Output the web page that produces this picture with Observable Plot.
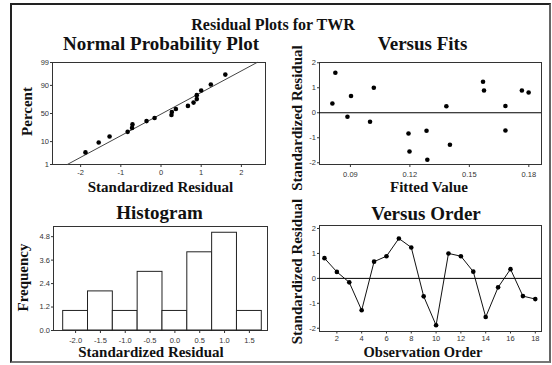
<!DOCTYPE html>
<html>
<head>
<meta charset="utf-8">
<script src="https://cdn.jsdelivr.net/npm/d3@7"></script>
<script src="https://cdn.jsdelivr.net/npm/@observablehq/plot@0.6"></script>
<style>
  html, body { margin: 0; padding: 0; background: #fff; }
  #wrap { position: relative; width: 552px; height: 365px; background: #fff; overflow: hidden; }
  #border { position: absolute; left: 10px; top: 3px; width: 537px; height: 356px;
            border-style: solid; border-width: 2px; border-color: #222 #666 #777 #222; }
  .panel { position: absolute; }
  .panel svg { overflow: visible; }
  #overlay { position: absolute; left: 0; top: 0; pointer-events: none; }
</style>
</head>
<body>
<div id="wrap"><div id="border"></div></div>
<script>
// ---------------- data ----------------
const observation = [1, 2, 3, 4, 5, 6, 7, 8, 9, 10, 11, 12, 13, 14, 15, 16, 17, 18];
const residuals = [0.81, 0.26, -0.16, -1.28, 0.67, 0.89, 1.60, 1.24, -0.72, -1.88, 1.00, 0.89, 0.27, -1.55, -0.36, 0.37, -0.71, -0.83];
const fitted = [0.1799, 0.1384, 0.0885, 0.1402, 0.0903, 0.1574, 0.0824, 0.1569, 0.1284, 0.1288, 0.1018, 0.1765, 0.1682, 0.1198, 0.0999, 0.0809, 0.1682, 0.1193];
const percentTicks = [1, 10, 50, 90, 99];
const normXTicks = [-2, -1, 0, 1, 2];
const residTicks = [-2, -1, 0, 1, 2];
const fitTicks = [0.09, 0.12, 0.15, 0.18];
const orderTicks = [2, 4, 6, 8, 10, 12, 14, 16, 18];
const histEdges = [-2.25, -1.75, -1.25, -0.75, -0.25, 0.25, 0.75, 1.25, 1.75];
const histXTicks = [-2.0, -1.5, -1.0, -0.5, 0.0, 0.5, 1.0, 1.5];
const freqTicks = [0, 1.2, 2.4, 3.6, 4.8];

// inverse standard normal CDF (Acklam)
function probit(p) {
  const a=[-3.969683028665376e+01,2.209460984245205e+02,-2.759285104469687e+02,1.383577518672690e+02,-3.066479806614716e+01,2.506628277459239e+00];
  const b=[-5.447609879822406e+01,1.615858368580409e+02,-1.556989798598866e+02,6.680131188771972e+01,-1.328068155288572e+01];
  const c=[-7.784894002430293e-03,-3.223964580411365e-01,-2.400758277161838e+00,-2.549732539343734e+00,4.374664141464968e+00,2.938163982698783e+00];
  const d=[7.784695709041462e-03,3.224671290700398e-01,2.445134137142996e+00,3.754408661907416e+00];
  const pl = 0.02425, ph = 1 - pl; let q, r;
  if (p < pl) { q = Math.sqrt(-2*Math.log(p)); return (((((c[0]*q+c[1])*q+c[2])*q+c[3])*q+c[4])*q+c[5])/((((d[0]*q+d[1])*q+d[2])*q+d[3])*q+1); }
  if (p <= ph) { q = p - 0.5; r = q*q; return (((((a[0]*r+a[1])*r+a[2])*r+a[3])*r+a[4])*r+a[5])*q/(((((b[0]*r+b[1])*r+b[2])*r+b[3])*r+b[4])*r+1); }
  q = Math.sqrt(-2*Math.log(1-p)); return -(((((c[0]*q+c[1])*q+c[2])*q+c[3])*q+c[4])*q+c[5])/((((d[0]*q+d[1])*q+d[2])*q+d[3])*q+1);
}

const rows = observation.map((o, i) => ({obs: o, resid: residuals[i], fit: fitted[i]}));
const n = residuals.length;
const sorted = residuals.slice().sort((a, b) => a - b);
const probRows = sorted.map((r, i) => ({resid: r, z: probit((i + 1 - 0.3) / (n + 0.4))}));
const mean = d3.mean(residuals), sd = d3.deviation(residuals);
const zTicks = percentTicks.map(p => probit(p / 100));
const zLabel = new Map(zTicks.map((z, i) => [z, String(percentTicks[i])]));
const fitLine = [percentTicks[0], percentTicks[percentTicks.length - 1]]
  .map(p => ({z: probit(p / 100), x: mean + sd * probit(p / 100)}));

const tickFont = {fontFamily: "'Liberation Sans', Arial, sans-serif", fontSize: "7.5px", color: "#333", background: "none", overflow: "visible"};
const wrap = document.getElementById("wrap");
function place(svg, left, top) {
  const div = document.createElement("div");
  div.className = "panel";
  div.style.left = left + "px"; div.style.top = top + "px";
  div.appendChild(svg); wrap.appendChild(div);
}
const fmtInt = d => String(d);

// ---- Normal probability plot ----
place(Plot.plot({
  width: 276, height: 142, marginLeft: 52, marginRight: 11, marginTop: 22, marginBottom: 18,
  style: tickFont,
  x: {domain: [-2.70, 2.60], ticks: normXTicks, tickFormat: fmtInt, tickSize: 3, tickPadding: 2.5, label: null},
  y: {domain: [zTicks[0], zTicks[zTicks.length - 1]], ticks: zTicks, tickFormat: z => zLabel.get(z), tickSize: 2, tickPadding: 1.5, label: null},
  marks: [
    Plot.frame({stroke: "#333"}),
    Plot.line(fitLine, {x: "x", y: "z", stroke: "#444", strokeWidth: 1}),
    Plot.dot(probRows, {x: "resid", y: "z", r: 2.3, fill: "#000", stroke: "none"})
  ]
}), 0, 40);

// ---- Versus fits ----
place(Plot.plot({
  width: 276, height: 142, marginLeft: 43, marginRight: 11, marginTop: 22, marginBottom: 18,
  style: tickFont,
  x: {domain: [0.0744, 0.1864], ticks: fitTicks, tickFormat: d => d.toFixed(2), tickSize: 3, tickPadding: 4, label: null},
  y: {domain: [-2.07, 2.01], ticks: residTicks, tickFormat: fmtInt, tickSize: 2, tickPadding: 1.5, label: null},
  marks: [
    Plot.frame({stroke: "#333"}),
    Plot.ruleY([0], {stroke: "#000", strokeWidth: 1}),
    Plot.dot(rows, {x: "fit", y: "resid", r: 2.3, fill: "#000", stroke: "none"})
  ]
}), 276, 40);

// ---- Histogram ----
place(Plot.plot({
  width: 276, height: 145, marginLeft: 53, marginRight: 9, marginTop: 26, marginBottom: 15,
  style: tickFont,
  x: {domain: [-2.445, 1.865], ticks: histXTicks, tickFormat: d => d.toFixed(1), tickSize: 3, tickPadding: 4, label: null},
  y: {domain: [0, 5.32], ticks: freqTicks, tickFormat: d => d.toFixed(1), tickSize: 2, tickPadding: 1.5, label: null},
  marks: [
    Plot.frame({stroke: "#333"}),
    Plot.rectY(residuals, Plot.binX({y: "count"}, {x: d => d, thresholds: histEdges, fill: "#fff", stroke: "#222", strokeWidth: 1, inset: 0}))
  ]
}), 0, 200);

// ---- Versus order ----
place(Plot.plot({
  width: 276, height: 145, marginLeft: 43, marginRight: 11, marginTop: 25, marginBottom: 14,
  style: tickFont,
  x: {domain: [0.6, 18.5], ticks: orderTicks, tickFormat: fmtInt, tickSize: 2.5, tickPadding: 1.5, label: null},
  y: {domain: [-2.13, 2.12], ticks: residTicks, tickFormat: fmtInt, tickSize: 2, tickPadding: 1.5, label: null},
  marks: [
    Plot.frame({stroke: "#333"}),
    Plot.ruleY([0], {stroke: "#000", strokeWidth: 1}),
    Plot.line(rows, {x: "obs", y: "resid", stroke: "#111", strokeWidth: 1}),
    Plot.dot(rows, {x: "obs", y: "resid", r: 2.3, fill: "#000", stroke: "none"})
  ]
}), 276, 200);

// ---- Text overlay ----
const texts = [
  {t: "Residual Plots for TWR", x: 273, y: 30, s: 16},
  {t: "Normal Probability Plot", x: 161, y: 50, s: 19},
  {t: "Versus Fits", x: 422.5, y: 50, s: 19},
  {t: "Histogram", x: 159.5, y: 219, s: 19},
  {t: "Versus Order", x: 426, y: 220, s: 19},
  {t: "Standardized Residual", x: 160.5, y: 191.5, s: 15},
  {t: "Fitted Value", x: 429, y: 192, s: 15},
  {t: "Standardized Residual", x: 151, y: 357, s: 15},
  {t: "Observation Order", x: 423, y: 357, s: 14.5},
  {t: "Percent", x: 32, y: 111.5, s: 15, rot: true},
  {t: "Frequency", x: 28.3, y: 277.5, s: 15, rot: true},
  {t: "Standardized Residual", x: 301.5, y: 118, s: 15, rot: true},
  {t: "Standardized Residual", x: 301.5, y: 271.5, s: 15, rot: true}
];
const ov = d3.select(wrap).append("svg").attr("id", "overlay").attr("width", 552).attr("height", 365);
ov.selectAll("text").data(texts).join("text")
  .attr("transform", d => d.rot ? `translate(${d.x},${d.y}) rotate(-90)` : `translate(${d.x},${d.y})`)
  .attr("text-anchor", "middle")
  .attr("font-family", "'Liberation Serif', 'Times New Roman', serif")
  .attr("font-weight", "bold")
  .attr("font-size", d => d.s)
  .attr("fill", "#111")
  .text(d => d.t);
</script>
</body>
</html>
